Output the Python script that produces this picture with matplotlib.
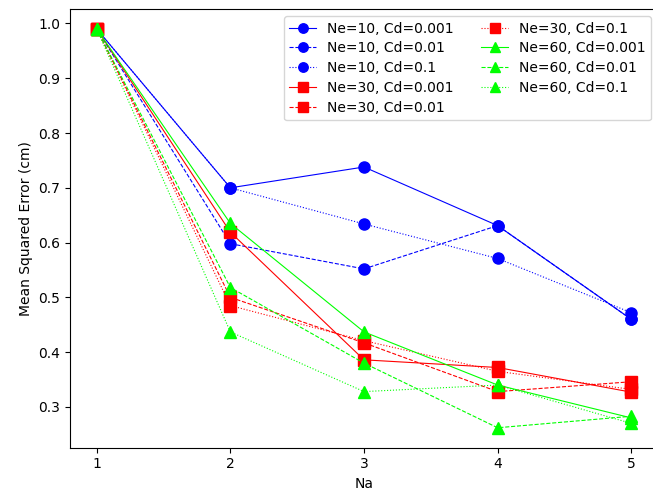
import matplotlib
matplotlib.use("Agg")
import matplotlib.pyplot as plt

# Data
na = [1, 2, 3, 4, 5]

ne10_cd0001 = [0.99, 0.700, 0.738, 0.631, 0.460]
ne10_cd001 = [0.99, 0.598, 0.552, 0.631, 0.460]
ne10_cd01 = [0.99, 0.700, 0.634, 0.571, 0.472]

ne30_cd0001 = [0.99, 0.619, 0.386, 0.372, 0.327]
ne30_cd001 = [0.99, 0.500, 0.417, 0.328, 0.346]
ne30_cd01 = [0.99, 0.485, 0.421, 0.365, 0.332]

ne60_cd0001 = [0.99, 0.635, 0.437, 0.340, 0.280]
ne60_cd001 = [0.99, 0.518, 0.380, 0.262, 0.283]
ne60_cd01 = [0.99, 0.437, 0.328, 0.340, 0.270]

ne_values = [10, 30, 60]
cd_values = ["0.001", "0.01", "0.1"]
series = [
    [ne10_cd0001, ne10_cd001, ne10_cd01],
    [ne30_cd0001, ne30_cd001, ne30_cd01],
    [ne60_cd0001, ne60_cd001, ne60_cd01],
]

colors = ["blue", "red", "lime"]
markers = ["o", "s", "^"]
styles = ["-", "--", ":"]

fig = plt.figure(figsize=(6.53, 4.98), dpi=100)
ax = fig.add_axes([70 / 653, 50.3 / 498, 588 / 653, 438.7 / 498])

for i, ne in enumerate(ne_values):
    for j, cd in enumerate(cd_values):
        ax.plot(na, series[i][j], color=colors[i], marker=markers[i],
                linestyle=styles[j], linewidth=0.8, markersize=8,
                label=f"Ne={ne}, Cd={cd}")

ax.set_xticks(na)
ax.set_xlabel("Na")
ax.set_ylabel("Mean Squared Error (cm)")
ax.legend(ncol=2, loc="upper right", labelspacing=0.42, handlelength=1.9,
          markerscale=0.85)

fig.savefig("out.png", dpi=100)
